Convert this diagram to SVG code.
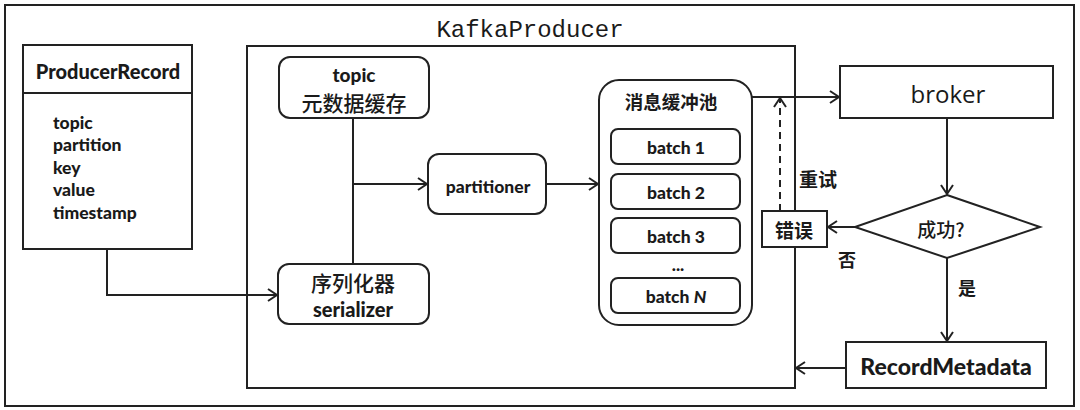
<svg xmlns="http://www.w3.org/2000/svg" width="1080" height="410" viewBox="0 0 1080 410">
<style>
.box{fill:#fff;stroke:#222;stroke-width:2}
.ln{fill:none;stroke:#222;stroke-width:2}
.dash{fill:none;stroke:#222;stroke-width:2;stroke-dasharray:7 5}
.b{font-family:Lato,"Noto Sans CJK SC",sans-serif;font-weight:900;fill:#1a1a1a}
.cjk{font-family:"Noto Sans CJK SC",sans-serif;fill:#1a1a1a}
.mid{text-anchor:middle;dominant-baseline:central}
</style>
<defs>
<marker id="arr" markerUnits="userSpaceOnUse" markerWidth="14" markerHeight="16" refX="11" refY="8" orient="auto">
<path d="M2,2 L11,8 L2,14" fill="none" stroke="#222" stroke-width="2"/>
</marker>
</defs>
<rect x="0" y="0" width="1080" height="410" fill="#fff"/>
<rect id="frame" x="5" y="5" width="1069" height="401" class="ln"/>

<g id="kafkaproducer">
<rect x="247" y="46" width="548" height="342" class="box"/>
<text x="530" y="30" class="mid" style="font-family:'Liberation Mono',monospace;font-size:24px;fill:#1a1a1a">KafkaProducer</text>
</g>

<g id="connectors">
<path d="M107,249 V295 H277" class="ln" marker-end="url(#arr)"/>
<path d="M353,118 V264" class="ln"/>
<path d="M353,184 H427" class="ln" marker-end="url(#arr)"/>
<path d="M546,184 H598" class="ln" marker-end="url(#arr)"/>
<path d="M752,97 H839" class="ln" marker-end="url(#arr)"/>
<path d="M947,118 V194" class="ln" marker-end="url(#arr)"/>
<path d="M855,227 H828" class="ln" marker-end="url(#arr)"/>
<path d="M780,211 V98" class="dash" marker-end="url(#arr)"/>
<path d="M947,258 V341" class="ln" marker-end="url(#arr)"/>
<path d="M846,368 H796" class="ln" marker-end="url(#arr)"/>
<text x="818" y="178" class="cjk mid" style="font-size:19px;font-weight:bold">重试</text>
<text x="847" y="259" class="cjk mid" style="font-size:18px;font-weight:bold">否</text>
<text x="967" y="287" class="cjk mid" style="font-size:18px;font-weight:bold">是</text>
</g>

<g id="producerrecord">
<rect x="23" y="45" width="169" height="204" class="box"/>
<line x1="23" y1="93" x2="192" y2="93" class="ln"/>
<text x="108" y="71" class="b mid" style="font-size:20px">ProducerRecord</text>
<text class="b" style="font-size:17.5px;dominant-baseline:central">
<tspan x="53" y="122">topic</tspan>
<tspan x="53" y="144">partition</tspan>
<tspan x="53" y="167">key</tspan>
<tspan x="53" y="189">value</tspan>
<tspan x="53" y="212">timestamp</tspan>
</text>
</g>

<g id="topic">
<rect x="279" y="57" width="150" height="61" rx="11" class="box"/>
<text x="354" y="74" class="b mid" style="font-size:19px">topic</text>
<text x="354" y="102" class="cjk mid" style="font-size:21px;font-weight:500">元数据缓存</text>
</g>

<g id="serializer">
<rect x="278" y="264" width="151" height="60" rx="11" class="box"/>
<text x="353" y="282" class="cjk mid" style="font-size:21px;font-weight:500">序列化器</text>
<text x="353" y="309" class="b mid" style="font-size:20px">serializer</text>
</g>

<g id="partitioner">
<rect x="428" y="154" width="118" height="60" rx="11" class="box"/>
<text x="488" y="186" class="b mid" style="font-size:17.5px">partitioner</text>
</g>

<g id="pool">
<rect x="599" y="80" width="153" height="245" rx="20" class="box"/>
<text x="671" y="101" class="cjk mid" style="font-size:18.5px;font-weight:bold">消息缓冲池</text>
</g>
<g id="batch1">
<rect x="611" y="129" width="129" height="35" rx="7" class="box"/>
<text x="676" y="147" class="b mid" style="font-size:17.5px">batch 1</text>
</g>
<g id="batch2">
<rect x="611" y="174" width="129" height="35" rx="7" class="box"/>
<text x="676" y="192" class="b mid" style="font-size:17.5px">batch 2</text>
</g>
<g id="batch3">
<rect x="611" y="218" width="129" height="35" rx="7" class="box"/>
<text x="676" y="236" class="b mid" style="font-size:17.5px">batch 3</text>
</g>
<text x="678" y="264" class="b mid" style="font-size:17.5px">...</text>
<g id="batchN">
<rect x="611" y="278" width="129" height="35" rx="7" class="box"/>
<text x="676" y="296" class="b mid" style="font-size:17.5px">batch <tspan font-style="italic">N</tspan></text>
</g>

<g id="broker">
<rect x="840" y="66" width="213" height="52" class="box"/>
<text x="948" y="93" class="mid" style="font-family:'Open Sans',sans-serif;font-size:24px;fill:#1a1a1a">broker</text>
</g>

<g id="success">
<path d="M947,195 L1040,227 L947,258 L855,227 Z" class="box"/>
<text x="941" y="228" class="cjk mid" style="font-size:19px;font-weight:500">成功?</text>
</g>

<g id="error">
<rect x="762" y="211" width="65" height="36" class="box"/>
<text x="794" y="229" class="cjk mid" style="font-size:19px;font-weight:bold">错误</text>
</g>

<g id="recordmetadata">
<rect x="846" y="342" width="200" height="46" class="box"/>
<text x="946" y="366" class="b mid" style="font-size:23px">RecordMetadata</text>
</g>
</svg>
